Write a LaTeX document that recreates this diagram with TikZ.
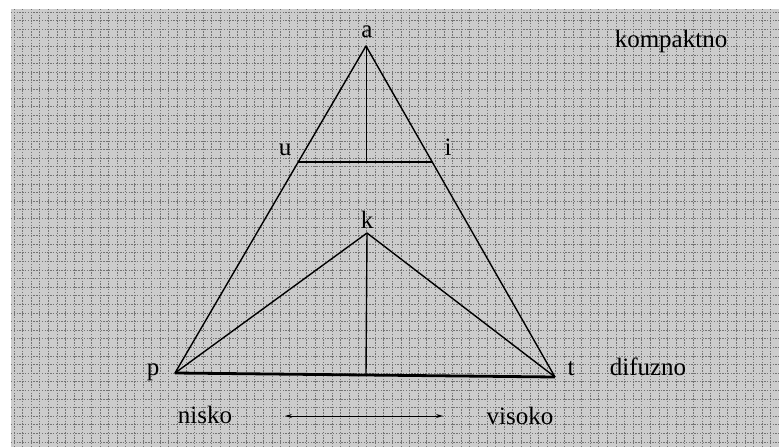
\documentclass[tikz,border=0pt]{standalone}
\usepackage{fontspec}
\setmainfont{Liberation Serif}
\usetikzlibrary{arrows.meta}
\begin{document}
\begin{tikzpicture}[x=1pt,y=-1pt,
  lbl/.style={anchor=base,inner sep=0pt,font=\fontsize{25}{30}\selectfont},
  edge/.style={line width=1.4pt,line join=round},
  baseedge/.style={line width=2.8pt},
  gridline/.style={black!55,line width=1pt,dash pattern=on 1.3pt off 1.5pt}]
\useasboundingbox (0,0) rectangle (779,447);
% textured background
\fill[black!20] (11,9) rectangle (779,447);
\foreach \x in {14,22.6,...,779} \draw[gridline] (\x,9) -- (\x,447);
\foreach \y in {12,20.6,...,447} \draw[gridline] (11,\y) -- (779,\y);
% vertices
\coordinate (A) at (366,46);
\coordinate (P) at (175,373);
\coordinate (T) at (555,377);
\coordinate (K) at (367,233);
\coordinate (U) at (298,162);
\coordinate (I) at (432,162);
\coordinate (M) at (366,162);
\coordinate (B) at (366,375);
\coordinate (L) at (285,416);
\coordinate (R) at (443,416);
% triangles
\draw[edge] (P) -- (A) -- (T);
\draw[baseedge] (P) -- (T);
\draw[edge] (P) -- (K) -- (T);
\draw[line width=1pt] (A) -- (M);
\draw[line width=1.2pt] (U) -- (I);
\draw[edge] (K) -- (B);
\draw[line width=0.7pt,{Stealth[length=7pt,width=4pt]}-{Stealth[length=7pt,width=4pt]}] (L) -- (R);
% labels
\node[lbl] (la) at (367,37) {a};
\node[lbl] (lu) at (285,155) {u};
\node[lbl] (li) at (448,155) {i};
\node[lbl] (lk) at (367,228) {k};
\node[lbl] (lp) at (153,375) {p};
\node[lbl] (lt) at (571,375) {t};
\node[lbl] (lkom) at (671,47) {kompaktno};
\node[lbl] (ldif) at (648,375) {difuzno};
\node[lbl] (lnis) at (205,423) {nisko};
\node[lbl] (lvis) at (520,424) {visoko};
\end{tikzpicture}
\end{document}
